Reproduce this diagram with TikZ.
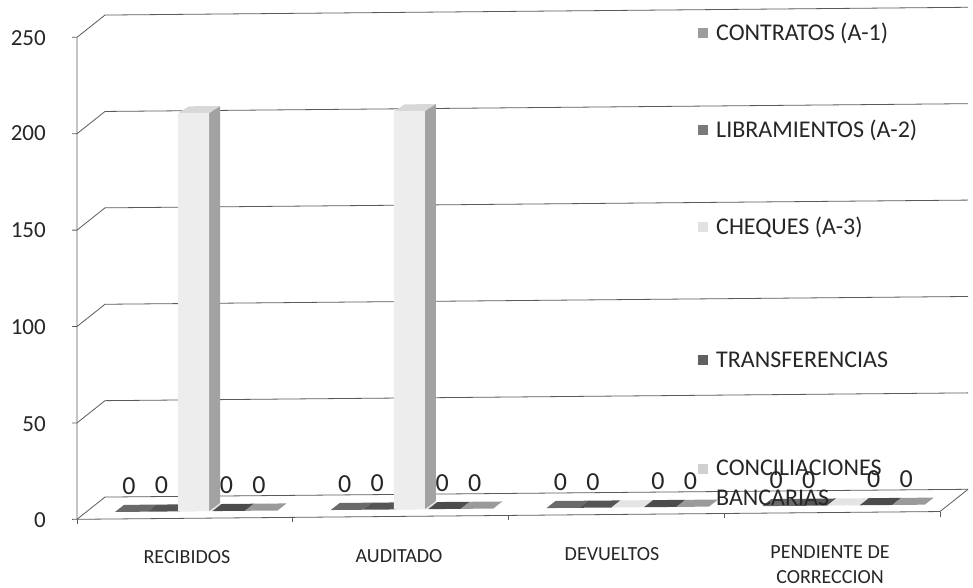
\documentclass[tikz,border=0pt]{standalone}
\usepackage{fontspec}
\setmainfont{Carlito}
\definecolor{gridc}{HTML}{5A5A5A}
\definecolor{txt}{HTML}{262626}
\definecolor{sA}{HTML}{6A6A6A}
\definecolor{sB}{HTML}{555555}
\definecolor{sC}{HTML}{E4E4E4}
\definecolor{sD}{HTML}{4C4C4C}
\definecolor{sE}{HTML}{9A9A9A}
\definecolor{cheqface}{HTML}{EDEDED}
\definecolor{cheqside}{HTML}{A2A2A2}
\definecolor{cheqtop}{HTML}{D8D8D8}
\definecolor{mA}{HTML}{9C9C9C}
\definecolor{mB}{HTML}{7A7A7A}
\definecolor{mC}{HTML}{E2E2E2}
\definecolor{mD}{HTML}{606060}
\definecolor{mE}{HTML}{D0D0D0}
\tikzset{
  gridline/.style={draw=gridc, line width=0.8pt},
  ticklbl/.style={font=\fontsize{23}{24}\selectfont, anchor=east, text=txt, inner sep=0pt},
  catlbl/.style={font=\fontsize{20}{25}\selectfont, align=center, text=txt, inner sep=0pt},
  zerolbl/.style={font=\fontsize{26}{26}\selectfont, text=txt, inner sep=0pt},
  leglbl/.style={font=\fontsize{24}{30}\selectfont, anchor=west, align=left, text=txt, inner sep=0pt},
  legmark/.style={minimum size=10pt, inner sep=0pt, draw=none},
}
\begin{document}
\begin{tikzpicture}[x=1pt,y=-1pt]
\useasboundingbox (0,0) rectangle (973,588);
\begin{scope}[yslant=0.009]
  % gridlines and y ticks
  \foreach \v in {0,50,100,150,200,250}{
    \pgfmathsetmacro{\yf}{520-1.928*\v}
    \pgfmathsetmacro{\yb}{\yf-22}
    \coordinate (f\v) at (77,\yf);
    \coordinate (b\v) at (105,\yb);
    \coordinate (e\v) at (968,\yb);
    \coordinate (t\v) at (72,\yf);
    \draw[gridline] (t\v) -- (f\v) -- (b\v) -- (e\v);
  }
  % axis and floor
  \coordinate (ftr) at (940,520);
  \draw[gridline] (f250) -- (f0) -- (ftr) -- (e0);
  \foreach \c in {1,2,3,4}{
    \pgfmathsetmacro{\xt}{77+215.75*\c}
    \coordinate (ct\c) at (\xt,520);
    \coordinate (cb\c) at (\xt,525);
    \draw[gridline] (ct\c) -- (cb\c);
  }
  \coordinate (ct0) at (77,525);
  \draw[gridline] (f0) -- (ct0);
  % slabs (zero values)
  \foreach \c in {0,1,2,3}{
    \foreach \i/\col in {0/sA,1/sB,2/sC,3/sD,4/sE}{
      \pgfmathsetmacro{\xa}{77+215.75*\c+38+32.5*\i}
      \pgfmathsetmacro{\xb}{\xa+32.5}
      \fill[\col] (\xa,513) -- (\xb,513) -- (\xb+9,506) -- (\xa+9,506) -- cycle;
    }
    \foreach \i in {0,1,3,4}{
      \pgfmathsetmacro{\xm}{77+215.75*\c+36+32.5*\i+16}
      \node[zerolbl] (z\c\i) at (\xm,487) {0};
    }
  }
  % tall CHEQUES bars
  \foreach \c in {0,1}{
    \pgfmathsetmacro{\xa}{77+215.75*\c+101}
    \pgfmathsetmacro{\xb}{\xa+31}
    \fill[cheqside] (\xb,513) -- (\xb+11,505) -- (\xb+11,108) -- (\xb,115) -- cycle;
    \fill[cheqtop] (\xa,115) -- (\xb,115) -- (\xb+11,108) -- (\xa+11,108) -- cycle;
    \fill[cheqface] (\xa,115) rectangle (\xb,513);
  }
\end{scope}
% y tick labels
\node[ticklbl] (y0) at (46,520) {0};
\node[ticklbl] (y50) at (46,424) {50};
\node[ticklbl] (y100) at (46,327) {100};
\node[ticklbl] (y150) at (46,230) {150};
\node[ticklbl] (y200) at (46,133) {200};
\node[ticklbl] (y250) at (46,38) {250};
% category labels
\node[catlbl] (k0) at (187,557) {RECIBIDOS};
\node[catlbl] (k1) at (399,556) {AUDITADO};
\node[catlbl] (k2) at (612,554) {DEVUELTOS};
\node[catlbl] (k3) at (830,564.5) {PENDIENTE DE\\CORRECCION};
% legend
\node[legmark, fill=mA] (m1) at (703,33) {};
\node[leglbl] (l1) at (716,33) {CONTRATOS (A-1)};
\node[legmark, fill=mB] (m2) at (703,130) {};
\node[leglbl] (l2) at (716,130) {LIBRAMIENTOS (A-2)};
\node[legmark, fill=mC] (m3) at (703,227) {};
\node[leglbl] (l3) at (716,227) {CHEQUES (A-3)};
\node[legmark, fill=mD] (m4) at (703,360) {};
\node[leglbl] (l4) at (716,360) {TRANSFERENCIAS};
\node[legmark, fill=mE] (m5) at (703,469) {};
\node[leglbl] (l5) at (716,483) {CONCILIACIONES\\BANCARIAS};
\end{tikzpicture}
\end{document}
